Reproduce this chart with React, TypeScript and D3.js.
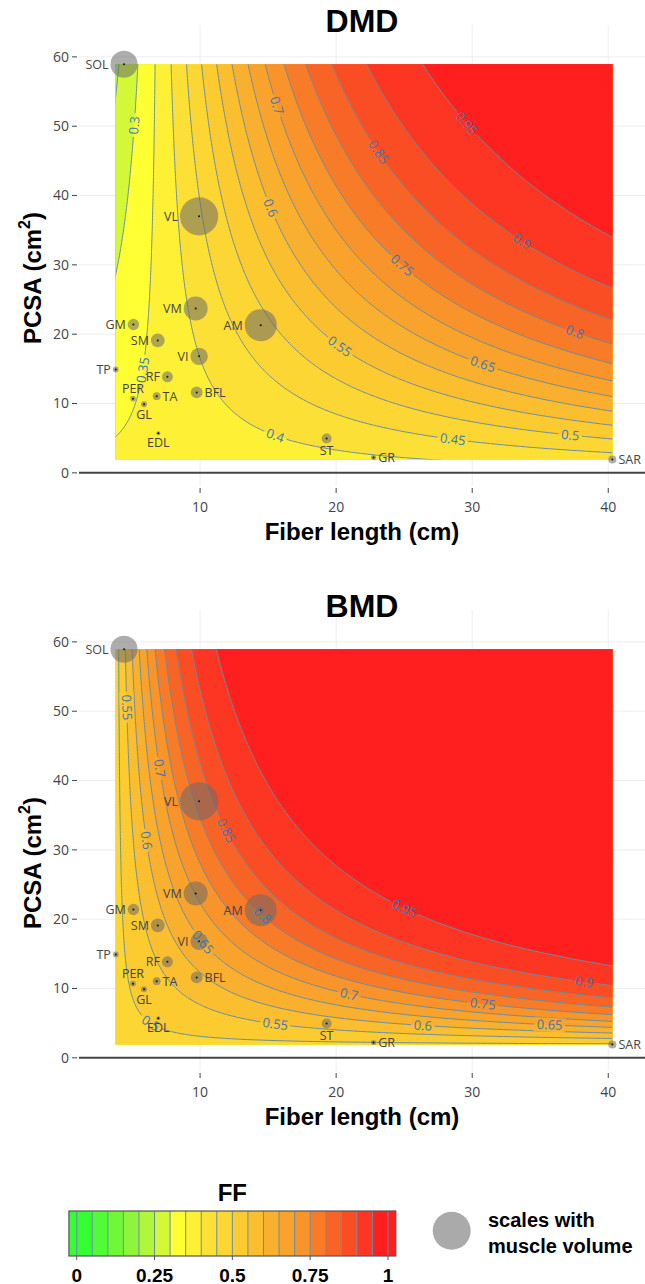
import React from 'react';
import * as d3 from 'd3';

// muscles (fiber length in cm, PCSA in cm^2)
const MUSCLES = ['SOL', 'VL', 'VM', 'AM', 'GM', 'SM', 'VI', 'TP', 'RF', 'TA', 'BFL', 'PER', 'GL', 'EDL', 'ST', 'GR', 'SAR'];
const FIBER_LENGTH = [4.41, 9.93, 9.68, 14.46, 5.1, 6.89, 9.93, 3.8, 7.6, 6.81, 9.75, 5.07, 5.88, 6.93, 19.3, 22.75, 40.3];
const PCSA = [58.95, 37.0, 23.7, 21.3, 21.4, 19.1, 16.8, 14.9, 13.85, 11.06, 11.6, 10.7, 9.9, 5.7, 4.96, 2.2, 1.93];

// logit(FF) = b0 + b1*FL + b2*PCSA + b3*FL*PCSA, fitted to the labelled contours
const DMD_COEF = [-0.576, 0.00203, -0.0213, 0.00304];
const BMD_COEF = [-0.0066, -0.013, -0.02787, 0.00719];

const LEVELS = [0, 0.05, 0.1, 0.15, 0.2, 0.25, 0.3, 0.35, 0.4, 0.45, 0.5, 0.55, 0.6, 0.65, 0.7, 0.75, 0.8, 0.85, 0.9, 0.95];

// contour labels: level, fiber length, PCSA (roughly where plotly put them)
const DMD_LABELS = [
  [0.3, 5.2, 50.1], [0.35, 5.8, 14.8], [0.4, 15.6, 5.7], [0.45, 28.6, 5.1], [0.5, 37.2, 5.8],
  [0.55, 20.4, 18.4], [0.6, 15.1, 38.1], [0.65, 30.8, 15.8], [0.7, 15.6, 53], [0.75, 24.8, 30],
  [0.8, 37.6, 20.6], [0.85, 23.1, 46.3], [0.9, 33.7, 33.5], [0.95, 29.6, 50.5],
];
const BMD_LABELS = [
  [0.5, 6.6, 5.6], [0.55, 4.73, 50.6], [0.55, 15.6, 4.86], [0.6, 6.2, 31.4], [0.6, 26.3, 4.5],
  [0.65, 10.37, 17.0], [0.65, 35.7, 4.7], [0.7, 7.13, 41.7], [0.7, 21.0, 9.0], [0.75, 30.8, 7.6],
  [0.8, 14.65, 20.6], [0.85, 11.96, 32.8], [0.9, 38.2, 10.7], [0.95, 24.95, 21.3],
];

const X_TICKS = [10, 20, 30, 40];
const Y_TICKS = [0, 10, 20, 30, 40, 50, 60];
const CBAR_TICKS = [0, 0.25, 0.5, 0.75, 1];

const FF_STOPS = [0.025, 0.175, 0.275, 0.325, 0.425, 0.525, 0.625, 0.725, 0.825, 0.925, 0.975];
const FF_COLORS = ['#33ff33', '#8cf53c', '#d2f838', '#ffff33', '#fde035', '#fbcb30', '#f9b02e', '#f8942a', '#f86426', '#fc3622', '#ff1f1f'];

const LABEL_SIDE: Record<string, string> = {
  TA: 'right', BFL: 'right', GR: 'right', SAR: 'right',
  PER: 'top', GL: 'bottom', EDL: 'bottom', ST: 'bottom',
};

const W = 645;
const H = 1284;
const BOLD = 'Liberation Sans, Arial, sans-serif';
const SANS = '"Open Sans", "DejaVu Sans", sans-serif';
const LINE_COLOR = '#6a8ca0';

const ffColor = d3.scaleLinear<string>().domain(FF_STOPS).range(FF_COLORS).clamp(true);
const bandColor = (lo: number) => ffColor(lo + 0.025);
const logistic = (t: number) => 1 / (1 + Math.exp(-t));
const labelText = (v: number) => String(+v.toFixed(2));
const labelWidth = (s: string) => [...s].reduce((w, ch) => w + (ch === '.' ? 3.6 : 7.4), 0);

// marker radius follows muscle volume = PCSA * fiber length
const radius = d3.scaleLinear().domain([0, 100]).range([0, 5.2]);

interface PanelProps {
  title: string;
  coef: number[];
  labels: number[][];
  top: number;
}

const Panel: React.FC<PanelProps> = ({ title, coef, labels, top }) => {
  const x = d3.scaleLinear().domain([1.1, 42.7]).range([79, 645]);
  const y = d3.scaleLinear().domain([-1.9, 64.6]).range([top + 486, top + 25]);

  const [fl0, fl1] = d3.extent(FIBER_LENGTH) as [number, number];
  const [pc0, pc1] = d3.extent(PCSA) as [number, number];

  // grid a bit bigger than the field so ring edges fall outside the clip
  const nx = 240;
  const ny = 300;
  const pad = 2;
  const gx0 = fl0 - pad;
  const gy0 = pc0 - pad;
  const sx = (fl1 - fl0 + 2 * pad) / (nx - 1);
  const sy = (pc1 - pc0 + 2 * pad) / (ny - 1);
  const [b0, b1, b2, b3] = coef;
  const values: number[] = new Array(nx * ny);
  for (let j = 0; j < ny; j++) {
    for (let i = 0; i < nx; i++) {
      const fl = gx0 + i * sx;
      const pc = gy0 + j * sy;
      values[j * nx + i] = logistic(b0 + b1 * fl + b2 * pc + b3 * fl * pc);
    }
  }
  const bands = d3.contours().size([nx, ny]).thresholds(LEVELS)(values);

  const toPx = (u: number, v: number): [number, number] => [x(gx0 + (u - 0.5) * sx), y(gy0 + (v - 0.5) * sy)];
  const path = d3.geoPath(
    d3.geoTransform({
      point(u: number, v: number) {
        const p = toPx(u, v);
        this.stream.point(p[0], p[1]);
      },
    })
  );

  const fx0 = x(fl0);
  const fx1 = x(fl1);
  const fy0 = y(pc1);
  const fy1 = y(pc0);

  const placed = labels
    .map(([lev, lf, lp]) => {
      const band = bands.find(b => Math.abs(b.value - lev) < 1e-6);
      if (!band) return null;
      const ax = x(lf);
      const ay = y(lp);
      let best: { pts: [number, number][]; k: number } | null = null;
      let bd = Infinity;
      band.coordinates.forEach(poly =>
        poly.forEach(ring => {
          const pts = ring.map(([u, v]) => toPx(u, v));
          pts.forEach((p, k) => {
            if (p[0] < fx0 || p[0] > fx1 || p[1] < fy0 || p[1] > fy1) return;
            const d = (p[0] - ax) ** 2 + (p[1] - ay) ** 2;
            if (d < bd) {
              bd = d;
              best = { pts, k };
            }
          });
        })
      );
      if (!best) return null;
      const { pts, k } = best as { pts: [number, number][]; k: number };
      const n = pts.length;
      const p0 = pts[(k - 3 + n) % n];
      const p1 = pts[(k + 3) % n];
      let ang = (Math.atan((p1[1] - p0[1]) / (p1[0] - p0[0])) * 180) / Math.PI;
      if (!isFinite(ang)) ang = 90;
      return { text: labelText(lev), px: pts[k][0], py: pts[k][1], ang };
    })
    .filter(Boolean) as { text: string; px: number; py: number; ang: number }[];

  const clipId = `field-${title}`;
  const maskId = `labels-${title}`;

  return (
    <g>
      <defs>
        <clipPath id={clipId}>
          <rect x={fx0} y={fy0} width={fx1 - fx0} height={fy1 - fy0} />
        </clipPath>
        <mask id={maskId} maskUnits="userSpaceOnUse" x={0} y={0} width={W} height={H}>
          <rect x={0} y={0} width={W} height={H} fill="white" />
          {placed.map((l, i) => {
            const w = labelWidth(l.text) + 5;
            return (
              <rect
                key={i}
                x={-w / 2}
                y={-7}
                width={w}
                height={14}
                fill="black"
                transform={`translate(${l.px},${l.py}) rotate(${l.ang})`}
              />
            );
          })}
        </mask>
      </defs>

      {/* grid */}
      {X_TICKS.map(t => (
        <line key={`gx${t}`} x1={x(t)} x2={x(t)} y1={top + 25} y2={top + 486} stroke="#eeeeee" strokeWidth={1} />
      ))}
      {Y_TICKS.filter(t => t !== 0).map(t => (
        <line key={`gy${t}`} x1={79} x2={645} y1={y(t)} y2={y(t)} stroke="#eeeeee" strokeWidth={1} />
      ))}
      <line x1={79} x2={645} y1={y(0)} y2={y(0)} stroke="#444" strokeWidth={2} />

      {/* filled contour bands */}
      <g clipPath={`url(#${clipId})`}>
        {bands.map(b => (
          <path key={b.value} d={path(b) || ''} fill={bandColor(b.value)} stroke="none" />
        ))}
      </g>
      <g clipPath={`url(#${clipId})`} mask={`url(#${maskId})`}>
        {bands
          .filter(b => b.value > 0)
          .map(b => (
            <path key={b.value} d={path(b) || ''} fill="none" stroke={LINE_COLOR} strokeWidth={1} />
          ))}
      </g>

      {/* muscles */}
      {MUSCLES.map((m, i) => {
        const cx = x(FIBER_LENGTH[i]);
        const cy = y(PCSA[i]);
        const r = radius(FIBER_LENGTH[i] * PCSA[i]);
        return (
          <g key={m}>
            <circle cx={cx} cy={cy} r={r} fill="rgba(105,105,105,0.55)" />
            <circle cx={cx} cy={cy} r={1} fill="#111" />
          </g>
        );
      })}

      {/* contour labels */}
      {placed.map((l, i) => (
        <text
          key={i}
          transform={`translate(${l.px},${l.py}) rotate(${l.ang})`}
          textAnchor="middle"
          dy="0.35em"
          fontFamily={SANS}
          fontSize={13}
          fill="#3b78b4"
        >
          {l.text}
        </text>
      ))}

      {/* muscle names */}
      {MUSCLES.map((m, i) => {
        const cx = x(FIBER_LENGTH[i]);
        const cy = y(PCSA[i]);
        const r = radius(FIBER_LENGTH[i] * PCSA[i]);
        const side = LABEL_SIDE[m] || 'left';
        let tx = cx - r - 2;
        let ty = cy;
        let anchor = 'end';
        if (side === 'right') {
          tx = cx + r + 2;
          anchor = 'start';
        } else if (side === 'top') {
          tx = cx;
          ty = cy - r - 7;
          anchor = 'middle';
        } else if (side === 'bottom') {
          tx = cx;
          ty = cy + r + 7;
          anchor = 'middle';
        }
        return (
          <text key={m} x={tx} y={ty} dy="0.35em" textAnchor={anchor} fontFamily={SANS} fontSize={12.5} fill="#444">
            {m}
          </text>
        );
      })}

      {/* axes */}
      {Y_TICKS.map(t => (
        <g key={`ty${t}`}>
          <line x1={72} x2={77} y1={y(t)} y2={y(t)} stroke="#444" strokeWidth={1} />
          <text x={69} y={y(t)} dy="0.35em" textAnchor="end" fontFamily={SANS} fontSize={14} fill="#444">
            {t}
          </text>
        </g>
      ))}
      {X_TICKS.map(t => (
        <g key={`tx${t}`}>
          <line x1={x(t)} x2={x(t)} y1={top + 488} y2={top + 493} stroke="#444" strokeWidth={1} />
          <text x={x(t)} y={top + 507} dy="0.35em" textAnchor="middle" fontFamily={SANS} fontSize={14} fill="#444">
            {t}
          </text>
        </g>
      ))}

      <text x={362} y={top + 31.7} textAnchor="middle" fontFamily={BOLD} fontWeight="bold" fontSize={32} fill="#000">
        {title}
      </text>
      <text x={362} y={top + 540} textAnchor="middle" fontFamily={BOLD} fontWeight="bold" fontSize={24} fill="#000">
        Fiber length (cm)
      </text>
      <text
        transform={`translate(41,${top + 278}) rotate(-90)`}
        textAnchor="middle"
        fontFamily={BOLD}
        fontWeight="bold"
        fontSize={24}
        fill="#000"
      >
        PCSA (cm
        <tspan dy={-11} fontSize={16}>
          2
        </tspan>
        <tspan dy={11}>)</tspan>
      </text>
    </g>
  );
};

const ColorBar: React.FC = () => {
  const c = d3.scaleLinear().domain([0, 1]).range([76.7, 388]);
  const edges = [-0.025, ...LEVELS, 1, 1.025];
  const y0 = 1211;
  const y1 = 1256;
  return (
    <g>
      <text x={c(0.5)} y={1200.7} textAnchor="middle" fontFamily={BOLD} fontWeight="bold" fontSize={24} fill="#000">
        FF
      </text>
      {edges.slice(0, -1).map((e, i) => {
        const next = edges[i + 1];
        return (
          <rect
            key={i}
            x={c(e)}
            y={y0}
            width={c(next) - c(e)}
            height={y1 - y0}
            fill={ffColor((e + next) / 2)}
          />
        );
      })}
      {edges.slice(1, -1).map((e, i) => (
        <line key={`l${i}`} x1={c(e)} x2={c(e)} y1={y0} y2={y1} stroke={LINE_COLOR} strokeWidth={1} />
      ))}
      <rect x={c(-0.025)} y={y0} width={c(1.025) - c(-0.025)} height={y1 - y0} fill="none" stroke="#555" strokeWidth={1.2} />
      {CBAR_TICKS.map(t => (
        <g key={t}>
          <line x1={c(t)} x2={c(t)} y1={y1} y2={y1 + 4} stroke="#555" strokeWidth={1} />
          <text x={c(t)} y={1281.5} textAnchor="middle" fontFamily={BOLD} fontWeight="bold" fontSize={19} fill="#000">
            {t}
          </text>
        </g>
      ))}
      <circle cx={451.7} cy={1230.7} r={19} fill="#aaaaaa" />
      <text x={488} y={1226.7} fontFamily={BOLD} fontWeight="bold" fontSize={20} fill="#000">
        scales with
      </text>
      <text x={488} y={1252.7} fontFamily={BOLD} fontWeight="bold" fontSize={20} fill="#000">
        muscle volume
      </text>
    </g>
  );
};

const App: React.FC = () => (
  <svg
    width={W}
    height={H}
    viewBox={`0 0 ${W} ${H}`}
    style={{ position: 'absolute', left: 0, top: 0, display: 'block', background: '#fff' }}
  >
    <rect x={0} y={0} width={W} height={H} fill="#fff" />
    <Panel title="DMD" coef={DMD_COEF} labels={DMD_LABELS} top={0} />
    <Panel title="BMD" coef={BMD_COEF} labels={BMD_LABELS} top={585} />
    <ColorBar />
  </svg>
);

export default App;
